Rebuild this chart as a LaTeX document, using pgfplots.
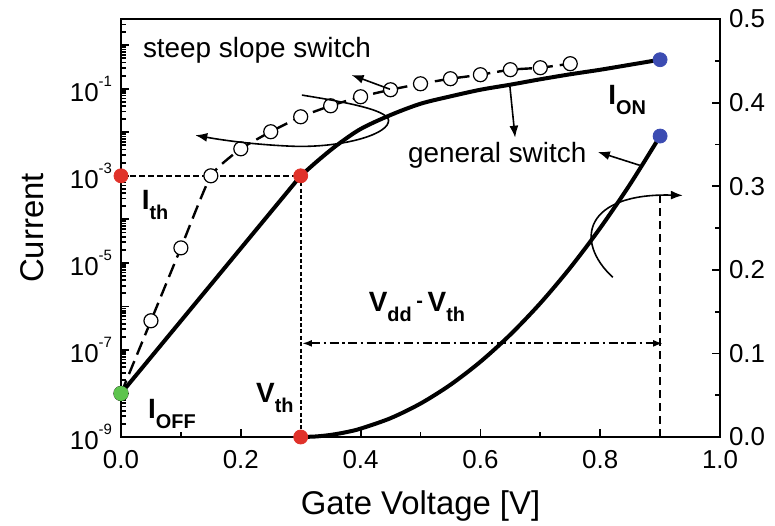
\documentclass[border=0pt]{standalone}
\usepackage{fontspec}
\setmainfont{Liberation Sans}
\usepackage{pgfplots}
\usepackage{pgfplotstable}
\pgfplotsset{compat=1.18}
\usetikzlibrary{arrows.meta,calc}

\definecolor{dotred}{HTML}{E0322A}
\definecolor{dotgreen}{HTML}{5DC44D}
\definecolor{dotblue}{HTML}{3C4CB2}

% general switch, log scale: subthreshold part
\pgfplotstableread{
x y
0.00 1.00e-8
0.30 1.00e-3
}\generalsub

% general switch, log scale: above threshold
\pgfplotstableread{
x y
0.30 1.00e-3
0.33 2.31e-3
0.36 5.00e-3
0.40 1.19e-2
0.45 2.49e-2
0.50 4.52e-2
0.55 6.68e-2
0.60 9.48e-2
0.65 0.124
0.70 0.165
0.75 0.215
0.80 0.273
0.85 0.356
0.90 0.465
}\generallog

% steep slope switch, log scale
\pgfplotstableread{
x y
0.00 1.00e-8
0.05 4.68e-7
0.10 2.21e-5
0.15 1.00e-3
0.20 4.17e-3
0.25 1.03e-2
0.30 2.27e-2
0.35 4.06e-2
0.40 6.55e-2
0.45 9.48e-2
0.50 0.130
0.55 0.170
0.60 0.210
0.65 0.274
0.70 0.304
0.75 0.376
}\steeplog

% general switch, linear scale
\pgfplotstableread{
x y
0.300 0.0
0.325 0.000625
0.350 0.0025
0.375 0.005625
0.400 0.01
0.450 0.0225
0.500 0.04
0.550 0.0625
0.600 0.09
0.650 0.1225
0.700 0.16
0.750 0.2025
0.800 0.25
0.850 0.3025
0.900 0.36
}\generallin

\newcommand{\tickfont}{\fontsize{13}{14}\selectfont}
\newcommand{\expo}[1]{10\raisebox{7.5bp}{\fontsize{7.5}{8}\selectfont #1}}
\newcommand{\lbl}[2]{\textbf{#1}\raisebox{-5bp}{\fontsize{10}{10}\selectfont\bfseries #2}}

\begin{document}
\begin{tikzpicture}
\pgfplotsset{
  every axis/.append style={
    scale only axis, width=299.5bp, height=209bp,
    xmin=0, xmax=1, clip=false,
    tick align=inside,
    axis line style={line width=1bp},
    major tick length=4bp, minor tick length=2.5bp,
    every tick/.style={black, line width=0.9bp},
    tick label style={font=\tickfont},
  }
}
\begin{axis}[
  ymode=log, ymin=1e-9, ymax=4,
  tick pos=left,
  xtick={0,0.2,0.4,0.6,0.8,1.0},
  minor xtick={0.1,0.3,0.5,0.7,0.9},
  xticklabels={0.0,0.2,0.4,0.6,0.8,1.0},
  xticklabel style={yshift=-3bp},
  ytick={1e-9,1e-8,1e-7,1e-6,1e-5,1e-4,1e-3,1e-2,1e-1,1},
  yticklabels={\expo{-9},,\expo{-7},,\expo{-5},,\expo{-3},,\expo{-1},},
  yticklabel style={xshift=-1bp},
  minor ytick={2e-9,3e-9,4e-9,5e-9,6e-9,7e-9,8e-9,9e-9,
    2e-8,3e-8,4e-8,5e-8,6e-8,7e-8,8e-8,9e-8,
    2e-7,3e-7,4e-7,5e-7,6e-7,7e-7,8e-7,9e-7,
    2e-6,3e-6,4e-6,5e-6,6e-6,7e-6,8e-6,9e-6,
    2e-5,3e-5,4e-5,5e-5,6e-5,7e-5,8e-5,9e-5,
    2e-4,3e-4,4e-4,5e-4,6e-4,7e-4,8e-4,9e-4,
    2e-3,3e-3,4e-3,5e-3,6e-3,7e-3,8e-3,9e-3,
    2e-2,3e-2,4e-2,5e-2,6e-2,7e-2,8e-2,9e-2,
    2e-1,3e-1,4e-1,5e-1,6e-1,7e-1,8e-1,9e-1,
    2,3,4},
  xlabel={Gate Voltage [V]},
  ylabel={Current},
  xlabel style={font=\fontsize{16.5}{18}\selectfont, yshift=-4.5bp},
  ylabel style={font=\fontsize{16.5}{18}\selectfont, yshift=6bp},
]
\coordinate (bl) at (rel axis cs:0,0);
\coordinate (tr) at (rel axis cs:1,1);
% threshold guide lines
\addplot[black, line width=1bp, dash pattern=on 3bp off 1.5bp] coordinates {(0,1e-3) (0.3,1e-3)};
\addplot[black, line width=1bp, dash pattern=on 2bp off 1.2bp] coordinates {(0.3,1e-3) (0.3,1e-9)};
% steep slope switch
\addplot[black, line width=1.2bp, dash pattern=on 7bp off 3.5bp, smooth, tension=0.3,
  mark=*, mark size=3.5bp, mark options={solid, fill=white, draw=black, line width=0.6bp}]
  table {\steeplog};
% general switch
\addplot[black, line width=2bp] table {\generalsub};
\addplot[black, line width=2bp, smooth, tension=0.5] table {\generallog};
% marker dots
\addplot[only marks, mark=*, mark size=3.5bp, color=dotred] coordinates {(0,1e-3) (0.3,1e-3)};
\addplot[only marks, mark=*, mark size=3.5bp, color=dotgreen] coordinates {(0,1e-8)};
\addplot[only marks, mark=*, mark size=3.5bp, color=dotblue] coordinates {(0.9,0.465)};
\end{axis}

\begin{axis}[
  ymin=0, ymax=0.5,
  axis x line=none, axis y line*=right,
  ytick={0,0.1,0.2,0.3,0.4,0.5},
  yticklabels={0.0,0.1,0.2,0.3,0.4,0.5},
  minor ytick={0.05,0.15,0.25,0.35,0.45},
  yticklabel style={xshift=1bp},
]
% general switch, linear scale
\addplot[black, line width=2bp, smooth, tension=0.5] table {\generallin};
% Vdd guide lines
\draw[black, line width=1.1bp, dash pattern=on 4bp off 2.5bp] (0.9,0) -- (0.9,0.292);
\draw[black, line width=1bp, dash pattern=on 4.5bp off 1.8bp on 1.2bp off 1.8bp,
  {Latex[length=5bp,width=3.5bp]}-{Latex[length=5bp,width=3.5bp]}] (0.302,0.112) -- (0.905,0.112);
% pointers
\draw[black, line width=0.8bp, -{Latex[length=6bp,width=4.5bp]}] (0.449,0.416) -- (0.385,0.433);
\draw[black, line width=0.8bp, -{Latex[length=6bp,width=4.5bp]}]
  (0.302,0.409) .. controls (0.38,0.400) and (0.455,0.390) .. (0.446,0.376)
  .. controls (0.44,0.360) and (0.36,0.345) .. (0.28,0.348)
  .. controls (0.22,0.350) and (0.17,0.355) .. (0.124,0.361);
\draw[black, line width=0.8bp, -{Latex[length=6bp,width=4.5bp]}] (0.649,0.421) -- (0.658,0.358);
\draw[black, line width=0.8bp, -{Latex[length=6bp,width=4.5bp]}] (0.866,0.325) -- (0.796,0.341);
\draw[black, line width=0.8bp, -{Latex[length=6bp,width=4.5bp]}]
  (0.821,0.191) .. controls (0.755,0.235) and (0.775,0.292) .. (0.938,0.289);
% labels
\node[font=\fontsize{14}{16}\selectfont] at (0.227,0.463) {steep slope switch};
\node[font=\fontsize{14}{16}\selectfont] at (0.628,0.337) {general switch};
\node[font=\fontsize{14}{16}\selectfont] at (0.845,0.403) {\lbl{I}{ON}};
\node[font=\fontsize{14}{16}\selectfont] at (0.057,0.277) {\lbl{I}{th}};
\node[font=\fontsize{14}{16}\selectfont] at (0.085,0.028) {\lbl{I}{OFF}};
\node[font=\fontsize{14}{16}\selectfont] at (0.257,0.047) {\lbl{V}{th}};
\node[font=\fontsize{14}{16}\selectfont] at (0.494,0.156) {\lbl{V}{dd}\,\raisebox{2bp}{\fontsize{10}{10}\selectfont\bfseries -}\,\lbl{V}{th}};
% marker dots
\addplot[only marks, mark=*, mark size=3.5bp, color=dotred] coordinates {(0.3,0)};
\addplot[only marks, mark=*, mark size=3.5bp, color=dotblue] coordinates {(0.9,0.36)};
\end{axis}

\pgfresetboundingbox
\path[use as bounding box] ($(bl)+(-60.5bp,-44.5bp)$) rectangle ($(tr)+(27.5bp,9.5bp)$);
\end{tikzpicture}
\end{document}
